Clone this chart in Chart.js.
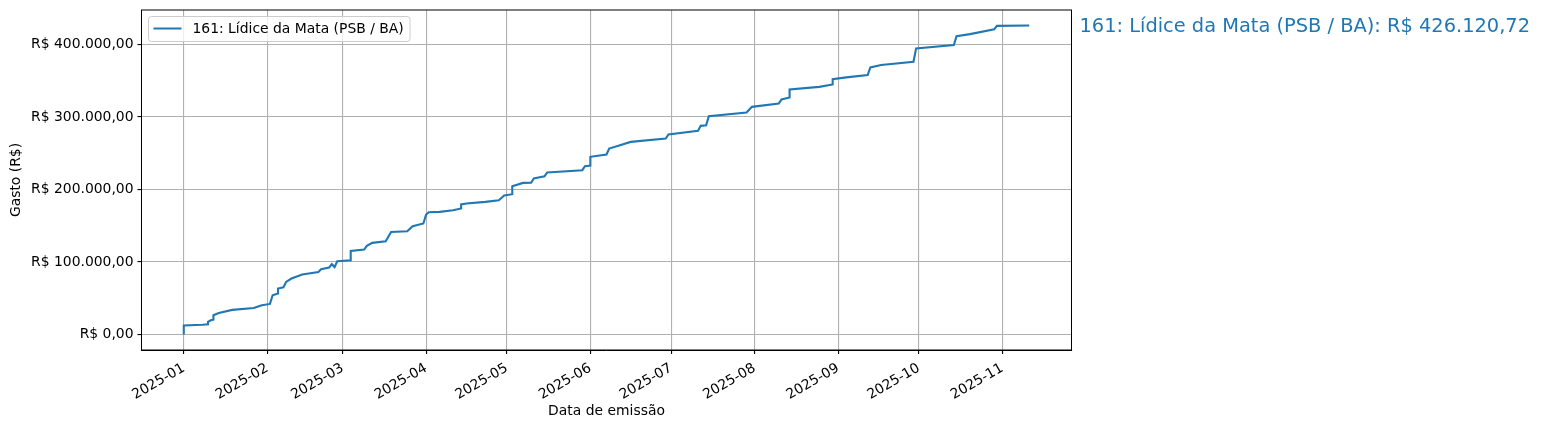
<!DOCTYPE html>
<html>
<head>
<meta charset="utf-8">
<script src="https://cdn.jsdelivr.net/npm/chart.js@4.4.1/dist/chart.umd.min.js"></script>
<style>
html,body{margin:0;padding:0;background:#fff;}
#wrap{width:1541px;height:430px;position:relative;}
</style>
</head>
<body>
<div id="wrap"><canvas id="c" width="1541" height="430"></canvas></div>
<script>
// ---- data ----
const seriesLabel = '161: Lídice da Mata (PSB / BA)';
const finalValue = 426120.72;
const dates = [
 '2025-01-01','2025-01-01','2025-01-08','2025-01-10','2025-01-10','2025-01-11','2025-01-12','2025-01-12',
 '2025-01-14','2025-01-19','2025-01-27','2025-01-30','2025-02-02','2025-02-03','2025-02-05','2025-02-05',
 '2025-02-07','2025-02-08','2025-02-10','2025-02-14','2025-02-20','2025-02-21','2025-02-24','2025-02-25',
 '2025-02-26','2025-02-27','2025-03-04','2025-03-04','2025-03-09','2025-03-10','2025-03-12','2025-03-17',
 '2025-03-19','2025-03-25','2025-03-27','2025-03-31','2025-04-01','2025-04-02','2025-04-06','2025-04-11',
 '2025-04-14','2025-04-14','2025-04-16','2025-04-23','2025-04-28','2025-04-30','2025-05-03','2025-05-03',
 '2025-05-07','2025-05-10','2025-05-11','2025-05-15','2025-05-16','2025-05-29','2025-05-30','2025-06-01',
 '2025-06-01','2025-06-07','2025-06-08','2025-06-12','2025-06-16','2025-06-29','2025-06-30','2025-07-11',
 '2025-07-12','2025-07-14','2025-07-15','2025-07-29','2025-07-31','2025-08-10','2025-08-11','2025-08-14',
 '2025-08-14','2025-08-25','2025-08-30','2025-08-30','2025-09-04','2025-09-12','2025-09-13','2025-09-17',
 '2025-09-29','2025-09-30','2025-10-14','2025-10-15','2025-10-20','2025-10-29','2025-10-30','2025-11-11'
];
const cumulative = [
 0,12600,13500,14200,17400,19700,20500,26600,
 29800,34000,36700,40500,42200,54200,56500,63400,
 65000,72500,77200,82800,86300,90000,92500,97000,
 93000,101000,102500,115300,117200,122200,126400,128700,
 141500,142500,149400,153100,165500,168700,169100,171400,
 173800,179300,180700,182900,185200,191700,193500,204500,
 209100,209300,215200,218300,223500,226600,232100,233000,
 245000,248300,256500,261100,265600,270300,275900,280900,
 287700,288500,301100,306200,313900,318600,324100,326900,
 337900,341500,344800,352100,354500,357700,368300,371500,
 376000,394500,399000,411400,414200,420700,425600,426120.72
];
const monthTicks = ['2025-01','2025-02','2025-03','2025-04','2025-05','2025-06','2025-07','2025-08','2025-09','2025-10','2025-11'];
const yTicks = [0,100000,200000,300000,400000];

// ---- helpers ----
const BASE = Date.UTC(2025,0,1);
function dayOf(s){const p=s.split('-').map(Number);return (Date.UTC(p[0],p[1]-1,p[2]||1)-BASE)/86400000;}
function brl(v){
  const neg=v<0; v=Math.abs(v);
  let [i,d]=v.toFixed(2).split('.');
  i=i.replace(/\B(?=(\d{3})+(?!\d))/g,'.');
  return (neg?'-':'')+'R$ '+i+','+d;
}
const points = dates.map((d,i)=>({x:dayOf(d),y:cumulative[i]}));
const tickDays = monthTicks.map(dayOf);
const xMin = points[0].x, xMax = points[points.length-1].x;
const xPad = (xMax-xMin)*0.05;
const yMinD = Math.min(...cumulative), yMaxD = Math.max(...cumulative);
const yPad = (yMaxD-yMinD)*0.05;

const FONT = 'DejaVu Sans';
const BLUE = '#1f77b4';

const decor = {
  id:'decor',
  afterDraw(chart){
    const {ctx, chartArea:a} = chart;
    ctx.save();
    // frame
    ctx.strokeStyle='#000'; ctx.lineWidth=1;
    ctx.strokeRect(a.left, a.top, a.right-a.left, a.bottom-a.top);
    // legend
    const lx=148.5, ly=16.5, lw=261.5, lh=25;
    ctx.fillStyle='rgba(255,255,255,0.8)';
    ctx.strokeStyle='#cccccc'; ctx.lineWidth=1;
    ctx.beginPath();
    ctx.roundRect(lx,ly,lw,lh,3);
    ctx.fill(); ctx.stroke();
    ctx.strokeStyle=BLUE; ctx.lineWidth=2;
    ctx.beginPath(); ctx.moveTo(153.5,28.5); ctx.lineTo(181.5,28.5); ctx.stroke();
    ctx.fillStyle='#000'; ctx.font='13.9px "'+FONT+'"';
    ctx.textBaseline='middle'; ctx.textAlign='left';
    ctx.fillText(chart.data.datasets[0].label,192.5,29);
    // axis titles
    ctx.textAlign='center';
    ctx.fillText('Data de emissão',(a.left+a.right)/2,411);
    ctx.save();
    ctx.translate(16,(a.top+a.bottom)/2);
    ctx.rotate(-Math.PI/2);
    ctx.fillText('Gasto (R$)',0,0);
    ctx.restore();
    // right annotation
    ctx.fillStyle=BLUE; ctx.font='19.4px "'+FONT+'"';
    ctx.textAlign='left'; ctx.textBaseline='alphabetic';
    ctx.fillText(seriesLabel+': '+brl(finalValue),1079.5,31.5);
    ctx.restore();
  }
};

new Chart(document.getElementById('c'),{
  type:'line',
  data:{datasets:[{label:seriesLabel,data:points,borderColor:BLUE,borderWidth:2.1,pointRadius:0,tension:0,fill:false}]},
  options:{
    responsive:false, animation:false, devicePixelRatio:1,
    layout:{padding:{left:0,right:469.5,top:10,bottom:0}},
    plugins:{legend:{display:false},tooltip:{enabled:false}},
    scales:{
      x:{type:'linear',min:xMin-xPad,max:xMax+xPad,
        afterBuildTicks(s){s.ticks=tickDays.map(v=>({value:v}));},
        afterFit(s){s.height=80;s.paddingLeft=0;s.paddingRight=0;},
        grid:{color:'#b0b0b0',lineWidth:1.1,tickColor:'#000',tickLength:4,drawTicks:true},
        border:{display:true,color:'#000',width:1},
        ticks:{autoSkip:false,minRotation:30,maxRotation:30,padding:6,color:'#000',font:{family:FONT,size:13.9},
          callback(v){const i=tickDays.indexOf(v);return i>=0?monthTicks[i]:'';}}
      },
      y:{type:'linear',min:yMinD-yPad,max:yMaxD+yPad,
        afterBuildTicks(s){s.ticks=yTicks.map(v=>({value:v}));},
        afterFit(s){s.width=141.5;s.paddingTop=0;s.paddingBottom=0;},
        grid:{color:'#b0b0b0',lineWidth:1.1,tickColor:'#000',tickLength:4,drawTicks:true},
        border:{display:true,color:'#000',width:1},
        ticks:{padding:4,color:'#000',font:{family:FONT,size:13.9},callback(v){return brl(v);}}
      }
    }
  },
  plugins:[decor]
});
</script>
</body>
</html>
